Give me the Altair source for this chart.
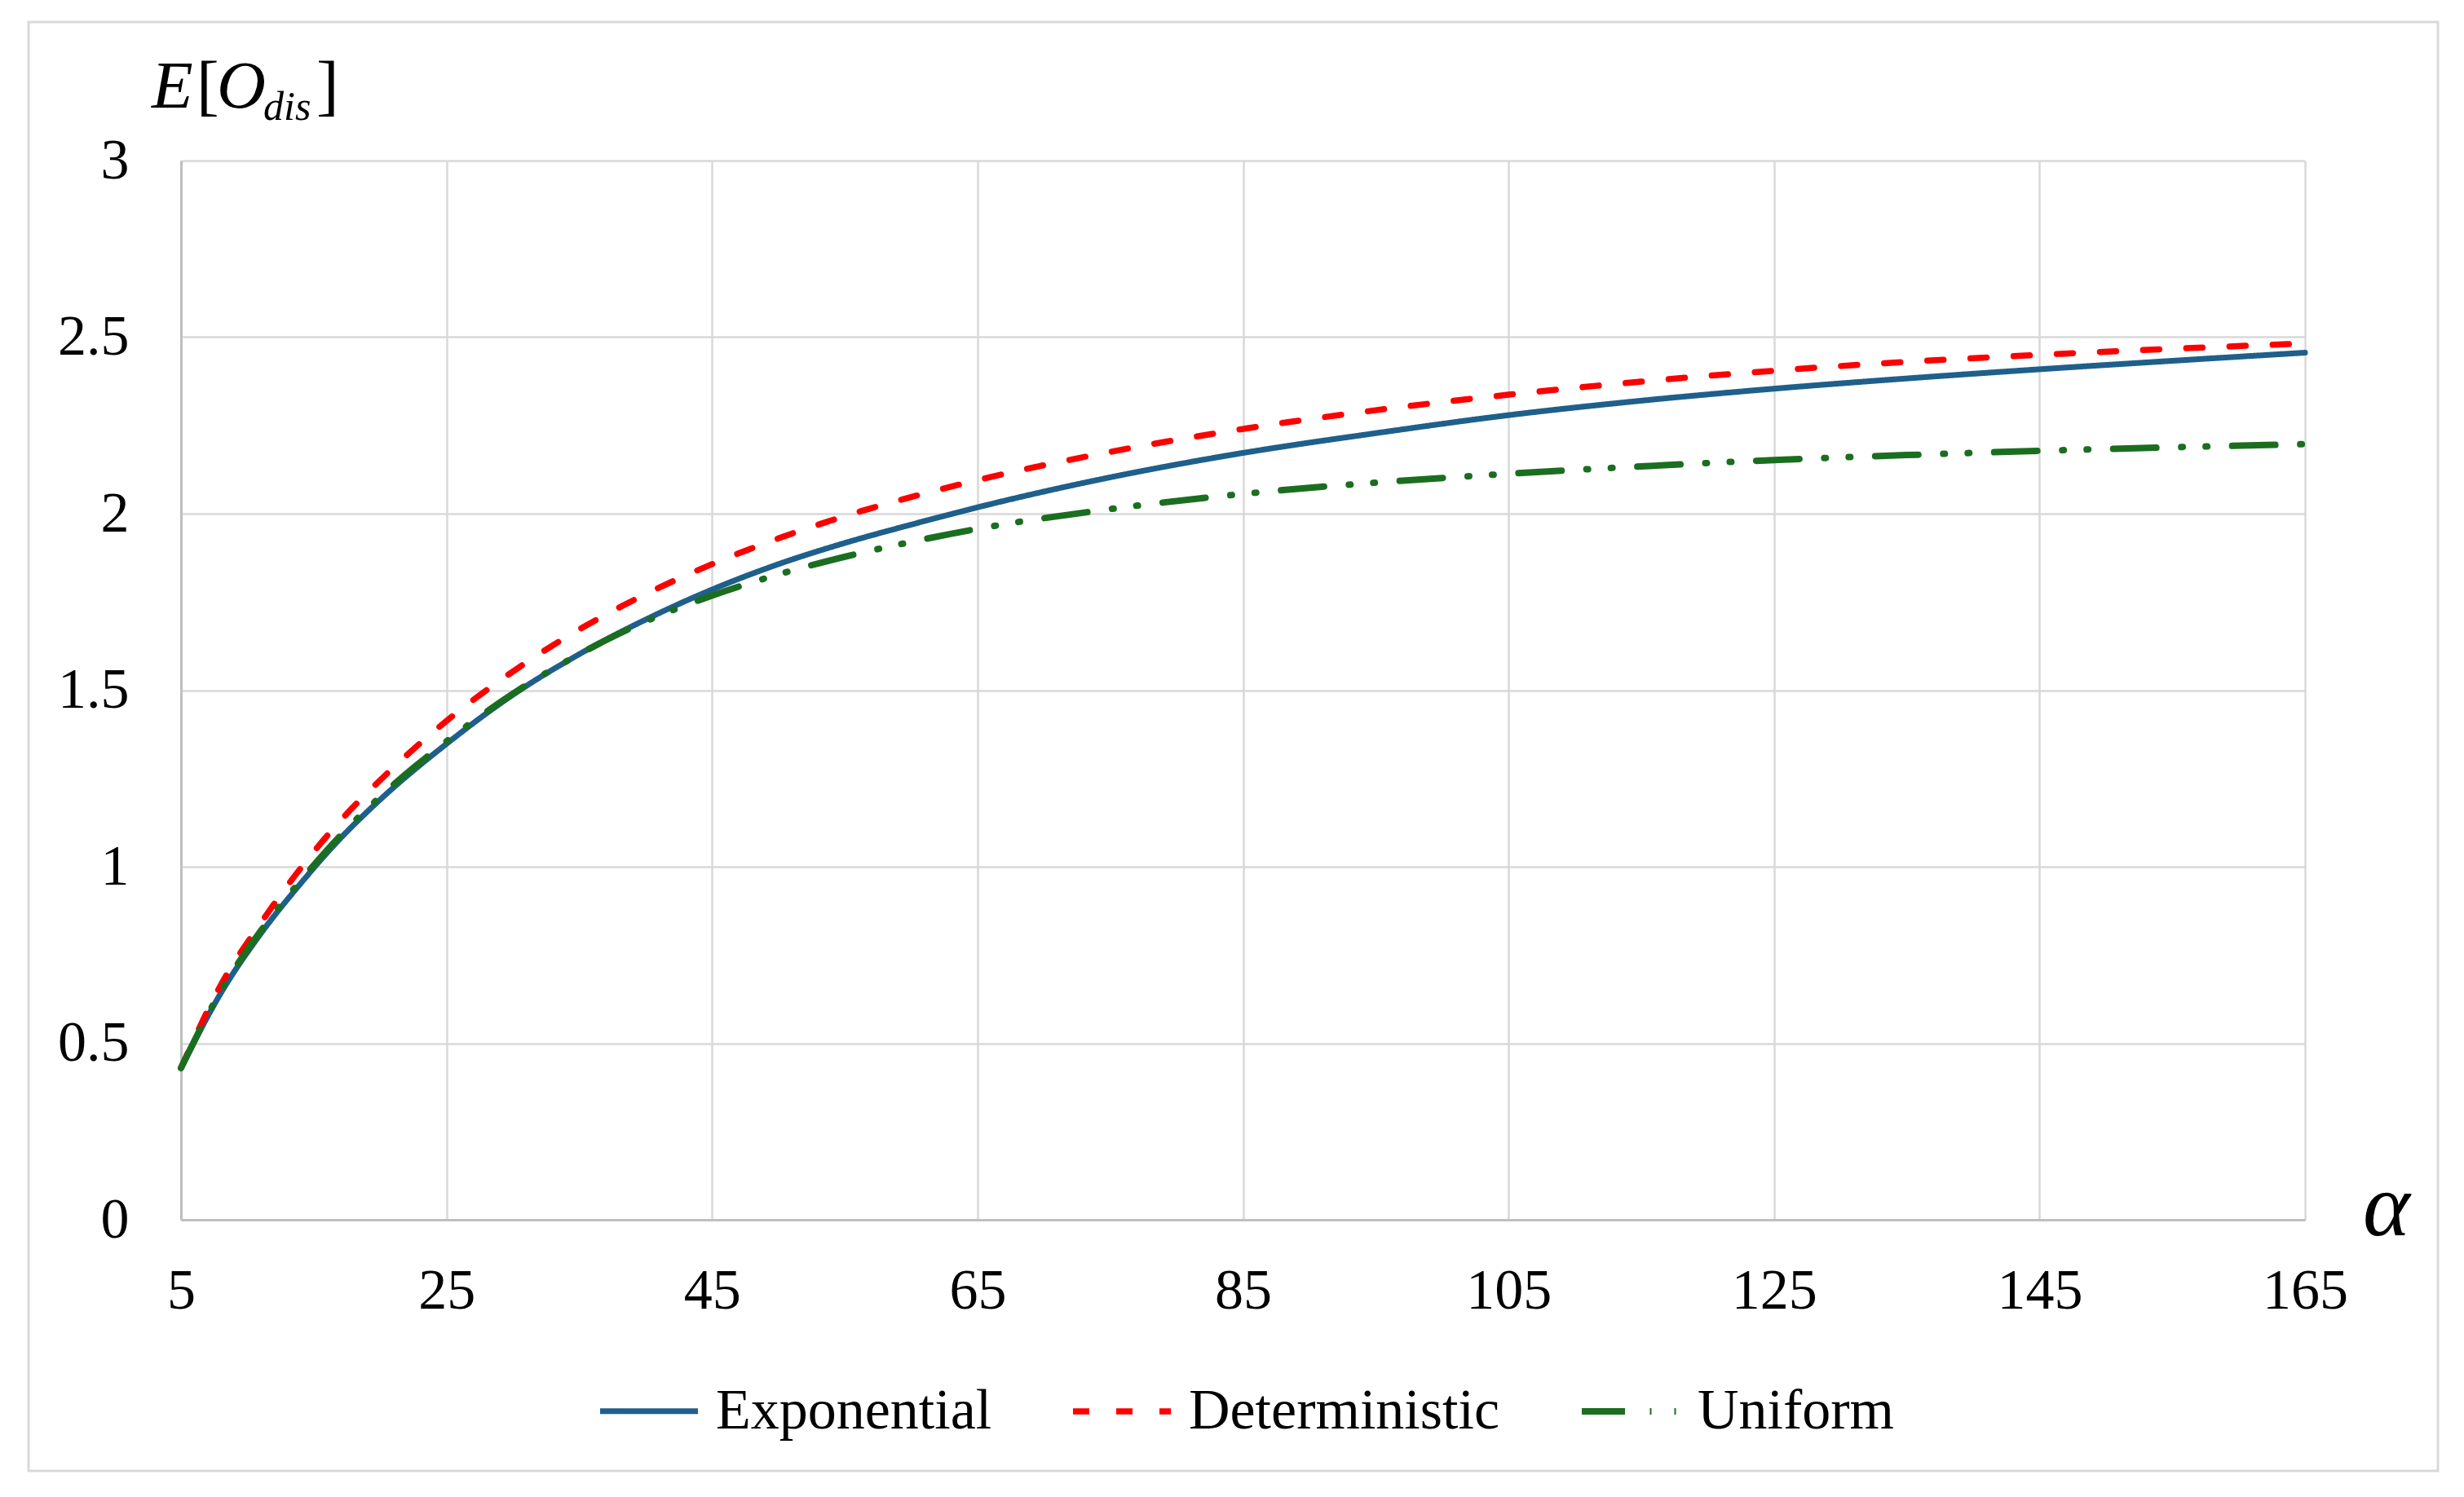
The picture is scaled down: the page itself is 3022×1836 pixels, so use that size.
import altair as alt
import pandas as pd

alpha = [5, 8, 11, 14, 17, 20, 25, 30, 35, 40, 45, 50, 55, 60, 65, 75, 85, 95, 105, 115, 125, 135, 145, 155, 165]
exponential = [0.43, 0.642, 0.81, 0.952, 1.08, 1.19, 1.348, 1.487, 1.602, 1.700, 1.785, 1.857, 1.917, 1.969, 2.018,
               2.103, 2.172, 2.228, 2.279, 2.32, 2.354, 2.383, 2.409, 2.433, 2.456]
deterministic = [0.43, 0.665, 0.84, 0.995, 1.13, 1.245, 1.413, 1.553, 1.672, 1.772, 1.857, 1.93, 1.993, 2.047, 2.095,
                 2.175, 2.24, 2.293, 2.337, 2.374, 2.405, 2.43, 2.45, 2.467, 2.482]
uniform = [0.43, 0.648, 0.818, 0.96, 1.088, 1.198, 1.355, 1.49, 1.602, 1.695, 1.768, 1.828, 1.878, 1.92, 1.957,
           2.013, 2.056, 2.088, 2.113, 2.134, 2.152, 2.166, 2.178, 2.188, 2.197]

series_names = ["Exponential", "Deterministic", "Uniform"]
series_colors = ["#1F5F8B", "#FF0000", "#1B6E20"]
series_widths = [7, 8, 7]
series_dashes = [[1, 0], [20, 33], [53, 30.5, 2, 28, 2, 30.5]]
x_ticks = [5, 25, 45, 65, 85, 105, 125, 145, 165]
y_ticks = [0, 0.5, 1, 1.5, 2, 2.5, 3]

rows = []
for name, vals in zip(series_names, [exponential, deterministic, uniform]):
    for a, v in zip(alpha, vals):
        rows.append({"alpha": a, "value": v, "series": name})
df = pd.DataFrame(rows)

FONT = "Liberation Serif"

legend = alt.Legend(
    title=None, orient="none", legendX=510, legendY=1470, direction="horizontal", columns=3,
    labelFont=FONT, labelFontSize=70, labelColor="black", labelLimit=1000,
    symbolType="stroke", symbolSize=14400, symbolStrokeWidth=7, labelOffset=18,
    columnPadding=84,
)

lines = alt.Chart(df).mark_line(strokeCap="round", strokeJoin="round", interpolate="monotone").encode(
    x=alt.X("alpha:Q", scale=alt.Scale(domain=[5, 165], nice=False, zero=False),
            axis=alt.Axis(values=x_ticks, title=None, labelFont=FONT, labelFontSize=70, labelColor="black",
                          labelPadding=53, ticks=False, tickSize=0, domainColor="#bfbfbf", domainWidth=3,
                          gridColor="#d9d9d9", gridWidth=2.5, labelFlush=False)),
    y=alt.Y("value:Q", scale=alt.Scale(domain=[0, 3], nice=False),
            axis=alt.Axis(values=y_ticks, title=None, format="~g", labelFont=FONT, labelFontSize=70,
                          labelColor="black", labelPadding=64, ticks=False, tickSize=0,
                          domainColor="#bfbfbf", domainWidth=3, gridColor="#d9d9d9", gridWidth=2.5)),
    color=alt.Color("series:N", scale=alt.Scale(domain=series_names, range=series_colors), legend=legend),
    strokeDash=alt.StrokeDash("series:N", scale=alt.Scale(domain=series_names, range=series_dashes), legend=legend),
    strokeWidth=alt.StrokeWidth("series:N", scale=alt.Scale(domain=series_names, range=series_widths), legend=None),
)

one = pd.DataFrame({"k": [0]})

border = alt.Chart(one).mark_rect(fillOpacity=0, stroke="#d9d9d9", strokeWidth=3).encode(
    x=alt.value(-187), x2=alt.value(2768), y=alt.value(-170), y2=alt.value(1607)
)


def label(text, x, y, size, italic):
    kw = dict(font=FONT, fontSize=size, align="left", baseline="alphabetic", color="black")
    if italic:
        kw["fontStyle"] = "italic"
    return alt.Chart(one).mark_text(**kw).encode(x=alt.value(x), y=alt.value(y), text=alt.value(text))


title_parts = [
    label("E", -36, -65, 83, True),
    label("[", 19, -65, 83, False),
    label("O", 44, -65, 83, True),
    label("dis", 101, -50, 50, True),
    label("]", 166, -65, 83, False),
    label("α", 2676, 1318, 110, True),
]

chart = alt.layer(border, lines, *title_parts).properties(
    width=2605, height=1299,
    padding={"left": 214, "top": 189, "right": 180, "bottom": 320},
    autosize=alt.AutoSizeParams(type="none"),
    background="white",
).configure_view(strokeWidth=0)

chart.save("out.html", embed_options={"renderer": "svg", "actions": False})
